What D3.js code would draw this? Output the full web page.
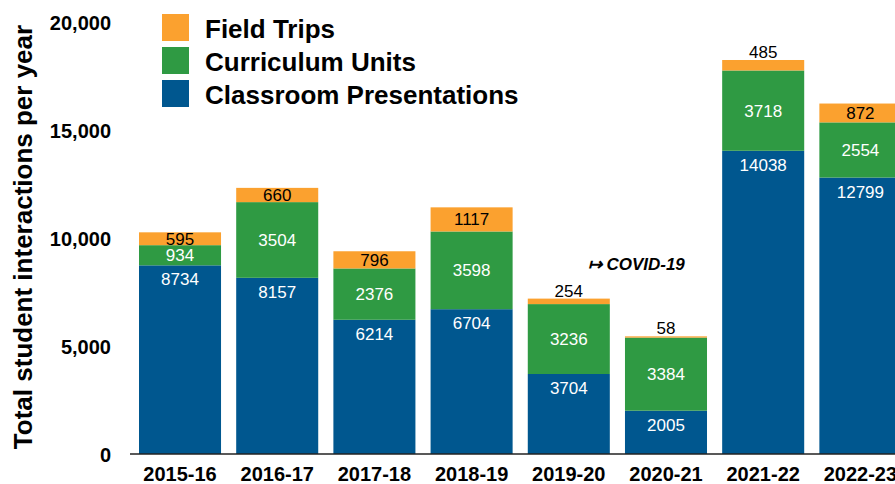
<!DOCTYPE html>
<html>
<head>
<meta charset="utf-8">
<script src="https://cdn.jsdelivr.net/npm/d3@7"></script>
<style>
  body { margin: 0; background: #fff; }
  svg { display: block; font-family: Helvetica, "Liberation Sans", Arial, sans-serif; }
</style>
</head>
<body>
<div id="chart"></div>
<script>
// Data
const years = ["2015-16", "2016-17", "2017-18", "2018-19", "2019-20", "2020-21", "2021-22", "2022-23"];
const classroom = [8734, 8157, 6214, 6704, 3704, 2005, 14038, 12799];
const curriculum = [934, 3504, 2376, 3598, 3236, 3384, 3718, 2554];
const fieldTrips = [595, 660, 796, 1117, 254, 58, 485, 872];
const seriesNames = ["Classroom Presentations", "Curriculum Units", "Field Trips"];
const seriesColors = ["#00578f", "#2f9a43", "#fba12f"];
const yTicks = [0, 5000, 10000, 15000, 20000];

const width = 895, height = 484;

const svg = d3.select("#chart")
  .append("svg")
    .attr("width", width)
    .attr("height", height);

// Build table for stacking
const table = years.map((yr, i) => ({
  year: yr,
  "Classroom Presentations": classroom[i],
  "Curriculum Units": curriculum[i],
  "Field Trips": fieldTrips[i]
}));

const stacked = d3.stack().keys(seriesNames)(table);

const color = d3.scaleOrdinal().domain(seriesNames).range(seriesColors);

// Scales
const x = d3.scaleBand()
  .domain(years)
  .range([139, 901.4])
  .paddingInner(0.156)
  .paddingOuter(0);

const y = d3.scaleLinear()
  .domain([0, 20000])
  .range([454, 22]);

// Y axis labels (no line)
svg.append("g")
  .attr("transform", "translate(111,0)")
  .call(d3.axisLeft(y).tickValues(yTicks).tickFormat(d3.format(",")).tickSize(0).tickPadding(0))
  .call(g => g.select(".domain").remove())
  .call(g => g.selectAll("text")
    .attr("dy", "0.36em")
    .style("font-family", "Helvetica, 'Liberation Sans', Arial, sans-serif")
    .style("font-size", "20px")
    .style("font-weight", "bold")
    .attr("fill", "#000"));

// Y axis title
svg.append("text")
  .attr("transform", "translate(32,237) rotate(-90)")
  .attr("text-anchor", "middle")
  .style("font-size", "26px")
  .style("font-weight", "bold")
  .text("Total student interactions per year");

// Bars
const layers = svg.selectAll("g.layer")
  .data(stacked)
  .enter()
  .append("g")
    .attr("class", "layer")
    .attr("fill", d => color(d.key));

layers.selectAll("rect")
  .data(d => d)
  .enter()
  .append("rect")
    .attr("x", d => x(d.data.year))
    .attr("y", d => y(d[1]))
    .attr("width", x.bandwidth())
    .attr("height", d => y(d[0]) - y(d[1]));

// Baseline
svg.append("line")
  .attr("x1", 130)
  .attr("x2", width)
  .attr("y1", y(0))
  .attr("y2", y(0))
  .attr("stroke", "#222")
  .attr("stroke-width", 1.5);

// X axis labels
svg.append("g")
  .attr("transform", `translate(0,${y(0)})`)
  .call(d3.axisBottom(x).tickSize(0).tickPadding(0))
  .call(g => g.select(".domain").remove())
  .call(g => g.selectAll("text")
    .attr("y", 27)
    .attr("dy", 0)
    .style("font-family", "Helvetica, 'Liberation Sans', Arial, sans-serif")
    .style("font-size", "20px")
    .style("font-weight", "bold")
    .attr("fill", "#000"));

// Value labels
stacked.forEach(layer => {
  svg.append("g")
    .selectAll("text")
    .data(layer)
    .enter()
    .append("text")
      .attr("x", d => x(d.data.year) + x.bandwidth() / 2)
      .attr("y", d => {
        const v = d[1] - d[0];
        if (layer.key === "Classroom Presentations") return y(d[1]) + 20;
        if (layer.key === "Field Trips" && v < 500) return y(d[1]) - 2;
        return (y(d[0]) + y(d[1])) / 2 + 6;
      })
      .attr("text-anchor", "middle")
      .style("font-size", "17px")
      .attr("fill", layer.key === "Field Trips" ? "#000" : "#fff")
      .text(d => d[1] - d[0]);
});

// COVID annotation
svg.append("text")
  .attr("x", x("2019-20") + x.bandwidth() * 0.73)
  .attr("y", 270)
  .style("font-size", "17px")
  .style("font-weight", "bold")
  .style("font-style", "italic")
  .text("\u21A6 COVID-19");

// Legend
const legendItems = ["Field Trips", "Curriculum Units", "Classroom Presentations"];
const legend = svg.append("g")
  .selectAll("g")
  .data(legendItems)
  .enter()
  .append("g")
    .attr("transform", (d, i) => `translate(162,${14 + i * 33})`);

legend.append("rect")
  .attr("width", 27)
  .attr("height", 27)
  .attr("fill", d => color(d));

legend.append("text")
  .attr("x", 43)
  .attr("y", 24)
  .style("font-size", "26px")
  .style("font-weight", "bold")
  .text(d => d);
</script>
</body>
</html>
